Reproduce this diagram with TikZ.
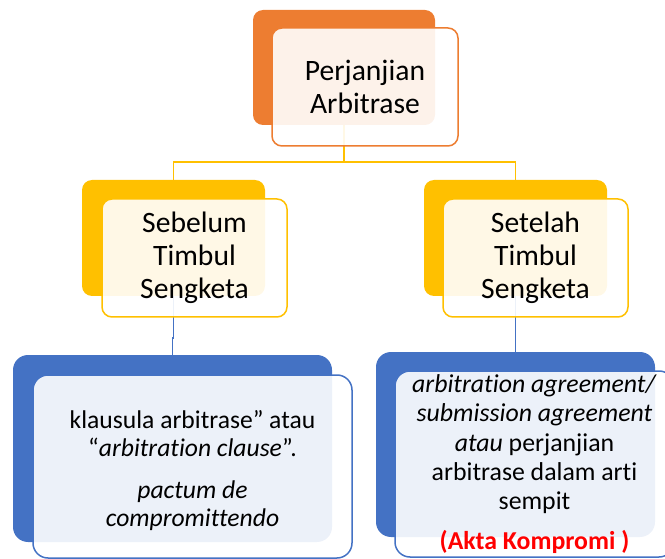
\documentclass[tikz,border=0pt]{standalone}
\usepackage{fontspec}
\setmainfont[Ligatures=NoCommon]{Carlito}
\definecolor{accorange}{HTML}{ED7D31}
\definecolor{accgold}{HTML}{FFC000}
\definecolor{accblue}{HTML}{4472C4}
\definecolor{redtext}{HTML}{FF0000}
\tikzset{
  backbox/.style={rectangle, fill=#1, draw=none, rounded corners=10pt, inner sep=0pt, outer sep=0pt},
  frontbox/.style={rectangle, fill=white, fill opacity=0.9, draw=#1, line width=1.5pt, rounded corners=10pt, inner sep=0pt, outer sep=0pt},
  link/.style={draw=#1, line width=1.5pt},
  bigtext/.style={align=center, inner sep=0pt, text=black, font=\fontsize{29.6}{33}\selectfont},
  lefttext/.style={align=center, inner sep=0pt, text=black, font=\fontsize{25.6}{28}\selectfont},
  righttext/.style={align=center, inner sep=0pt, text=black, font=\fontsize{25.8}{29.3}\selectfont}
}
\begin{document}
\begin{tikzpicture}[x=1pt,y=-1pt]
\clip (0,0) rectangle (665,559);
% back boxes
\node[backbox=accorange, minimum width=182pt, minimum height=115pt] (topback) at (344,67.5) {};
\node[backbox=accgold, minimum width=183pt, minimum height=116pt] (midLback) at (173.5,238) {};
\node[backbox=accgold, minimum width=183pt, minimum height=116pt] (midRback) at (515.5,238) {};
\node[backbox=accblue, rounded corners=15pt, minimum width=319pt, minimum height=187pt] (botLback) at (172.5,448.5) {};
\node[backbox=accblue, rounded corners=15pt, minimum width=279pt, minimum height=185pt] (botRback) at (515.5,444.5) {};
% connectors
\coordinate (jt) at (344,162);
\draw[link=accgold] (topback.south) -- (jt);
\draw[link=accgold] (jt) -| (midLback.north);
\draw[link=accgold] (jt) -| (midRback.north);
\draw[link=accblue] (midLback.south) -- ++(0,42) -| (botLback.north);
\draw[link=accblue] (midRback.south) -- (botRback.north);
% front boxes
\node[frontbox=accorange, minimum width=186pt, minimum height=118pt] (topfront) at (365,87) {};
\node[frontbox=accgold, minimum width=185pt, minimum height=118pt] (midLfront) at (194.5,258) {};
\node[frontbox=accgold, minimum width=185pt, minimum height=118pt] (midRfront) at (535.5,258) {};
\node[frontbox=accblue, rounded corners=15pt, minimum width=319pt, minimum height=183pt] (botLfront) at (192.5,466.5) {};
\node[frontbox=accblue, rounded corners=15pt, minimum width=279pt, minimum height=186pt] (botRfront) at (534.5,464) {};
% texts
\node[bigtext] (toptext) at (topfront.center) {Perjanjian\\Arbitrase};
\node[bigtext] (midLtext) at (midLfront.center) {Sebelum\\Timbul\\Sengketa};
\node[bigtext] (midRtext) at (midRfront.center) {Setelah\\Timbul\\Sengketa};
\node[lefttext, yshift=-4pt] (botLtext) at (botLfront.center) {klausula arbitrase” atau\\“\textit{arbitration clause}”.\\[14pt]\textit{pactum de}\\\textit{compromittendo}};
\node[righttext] (botRtext) at (botRfront.center) {\textit{arbitration agreement/}\\\textit{submission agreement}\\\textit{atau} perjanjian\\arbitrase dalam arti\\sempit\\[10pt]{\color{redtext}\bfseries (Akta Kompromi )}};
\end{tikzpicture}
\end{document}
